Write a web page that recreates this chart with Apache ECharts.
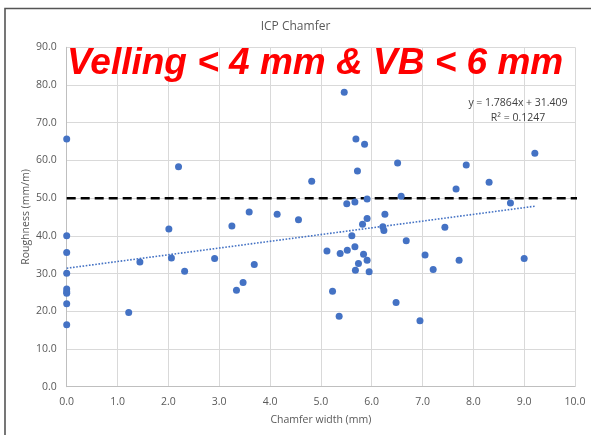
<!DOCTYPE html>
<html>
<head>
<meta charset="utf-8">
<script src="https://cdn.jsdelivr.net/npm/echarts@6/dist/echarts.min.js"></script>
<style>html,body{margin:0;padding:0;background:#fff}#c{width:591px;height:435px}</style>
</head>
<body>
<div id="c"></div>
<script>
// Data
const chamferWidth = [0,0,0,0,0,0,0,0,0,1.22,1.44,2.01,2.06,2.2,2.32,2.91,3.25,3.34,3.47,3.59,3.69,4.14,4.56,4.82,5.12,5.23,5.36,5.38,5.46,5.51,5.52,5.61,5.67,5.67,5.68,5.69,5.72,5.74,5.82,5.84,5.86,5.91,5.91,5.91,5.95,6.22,6.24,6.26,6.48,6.51,6.58,6.68,6.95,7.05,7.21,7.44,7.66,7.72,7.86,8.31,8.73,9.0,9.21];
const roughness = [65.7,40.0,35.6,30.1,25.9,25.2,24.8,22.0,16.4,19.7,33.1,41.8,34.1,58.3,30.6,34.0,42.6,25.6,27.6,46.3,32.4,45.7,44.3,54.5,36.0,25.3,18.7,35.3,78.1,48.5,36.2,40.0,49.0,37.1,30.9,65.7,57.2,32.7,43.1,35.1,64.3,49.8,44.6,33.5,30.5,42.4,41.4,45.7,22.3,59.3,50.5,38.7,17.5,34.9,31.1,42.3,52.4,33.5,58.8,54.2,48.7,34.0,61.9];
const trendX = [0, 9.21];
const trendY = [31.41, 47.86];
const limitX = [0, 10.1];
const limitY = [50, 50];
const xTicks = [0,1,2,3,4,5,6,7,8,9,10];
const yTicks = [0,10,20,30,40,50,60,70,80,90];
const chartTitle = 'ICP Chamfer';
const bannerText = 'Velling < 4 mm & VB < 6 mm';
const eqText = 'y = 1.7864x + 31.409';
const r2Text = 'R² = 0.1247';

const pts = chamferWidth.map((x,i)=>[x, roughness[i]]);
const trend = trendX.map((x,i)=>[x, trendY[i]]);
const limit = limitX.map((x,i)=>[x, limitY[i]]);

const chart = echarts.init(document.getElementById('c'), null, {renderer:'canvas'});
const font = 'Open Sans, Noto Sans, sans-serif';
chart.setOption({
  animation:false,
  backgroundColor:'#fff',
  title:{
    text: chartTitle, left:'center', top:16,
    textStyle:{fontFamily:font, fontSize:12, fontWeight:'normal', color:'#595959'}
  },
  grid:{left:66.7, right:16, top:47.3, bottom:48.3, containLabel:false},
  xAxis:{
    type:'value', min:xTicks[0], max:xTicks[xTicks.length-1], interval:1,
    name:'Chamfer width (mm)', nameLocation:'middle', nameGap:28, nameMoveOverlap:false,
    nameTextStyle:{fontFamily:font, fontSize:10.5, color:'#595959'},
    axisLine:{show:true, onZero:false, lineStyle:{color:'#bfbfbf', width:1}},
    axisTick:{show:false},
    axisLabel:{fontFamily:font, fontSize:10.5, color:'#595959', margin:10, formatter:v=>v.toFixed(1)},
    splitLine:{show:true, lineStyle:{color:'#d9d9d9', width:1}}
  },
  yAxis:{
    type:'value', min:yTicks[0], max:yTicks[yTicks.length-1], interval:10,
    name:'Roughness (mm/m)', nameLocation:'middle', nameGap:35, nameMoveOverlap:false,
    nameTextStyle:{fontFamily:font, fontSize:10.5, color:'#595959'},
    axisLine:{show:true, onZero:false, lineStyle:{color:'#bfbfbf', width:1}},
    axisTick:{show:false},
    axisLabel:{fontFamily:font, fontSize:10.5, color:'#595959', margin:10, formatter:v=>v.toFixed(1)},
    splitLine:{show:true, lineStyle:{color:'#d9d9d9', width:1}}
  },
  series:[
    {
      type:'line', data:limit, clip:false, symbol:'none', silent:true, z:3,
      lineStyle:{color:'#000', width:2.5, type:[9,5]}
    },
    {
      type:'line', data:trend, symbol:'none', silent:true, z:4,
      lineStyle:{color:'#4472C4', width:1.6, type:[1.6,1.6]}
    },
    {
      type:'scatter', data:pts, symbol:'circle', symbolSize:7, z:5,
      itemStyle:{color:'#4472C4', opacity:1}
    }
  ],
  graphic:[
    {type:'rect', shape:{x:5, y:8.5, width:600, height:440}, style:{fill:'none', stroke:'#555', lineWidth:1.6}, silent:true, z:-1},
    {type:'text', left:67, top:45, style:{text:bannerText, fill:'#ff0000', font:'italic bold 37px "Liberation Sans", Arial, sans-serif'}, z:10},
    {type:'text', x:518, y:103, style:{text:eqText, fill:'#404040', font:'10.5px "Open Sans", sans-serif', align:'center', verticalAlign:'middle'}, z:10},
    {type:'text', x:518, y:118, style:{text:r2Text, fill:'#404040', font:'10.5px "Open Sans", sans-serif', align:'center', verticalAlign:'middle'}, z:10}
  ]
});
</script>
</body>
</html>
